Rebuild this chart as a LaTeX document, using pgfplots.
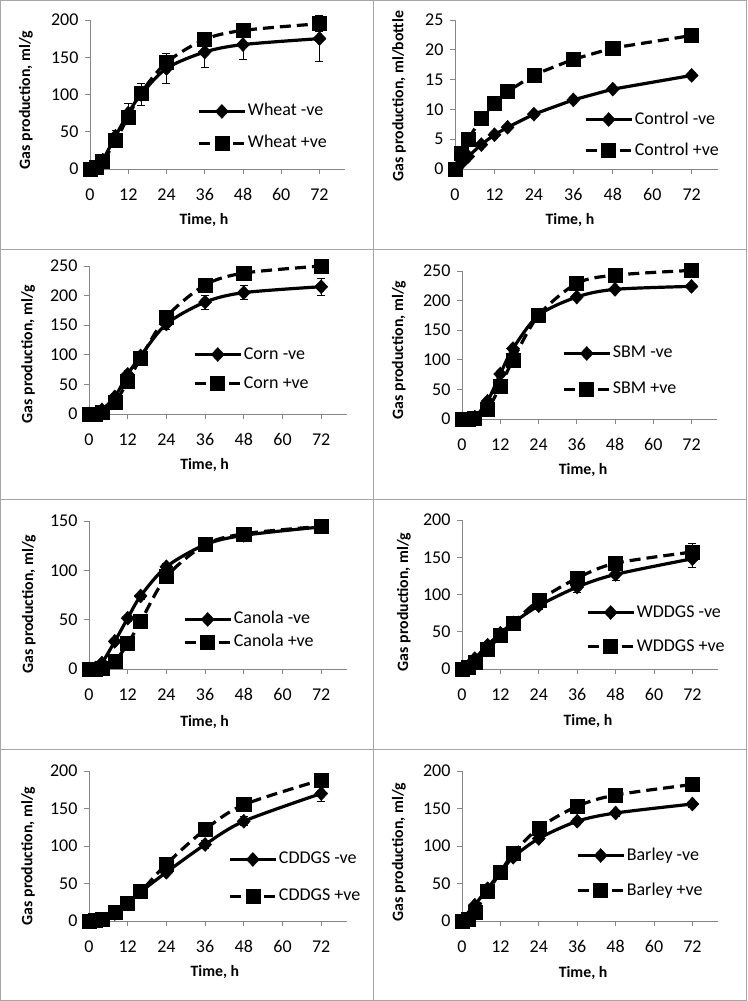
\documentclass[border=0pt]{standalone}
\usepackage{fontspec}
\setmainfont{Carlito}
\usepackage{pgfplots}
\usepackage{pgfplotstable}
\pgfplotsset{compat=1.18}

\definecolor{axisgray}{HTML}{868686}
\definecolor{framegray}{HTML}{A6A6A6}

% columns: time, -ve mean, -ve sd, +ve mean, +ve sd
\pgfplotstableread{
t  neg  nege  pos  pose
0  0    0     0    0
2  3    1     2    1
4  12   3     10   2
8  44   8     38   6
12 75   13    70   8
16 100  15    102  8
24 135  20    143  5
36 157  21    174  6
48 167  20    186  9
72 175  31    195  10
}\wheat
\pgfplotstableread{
t  neg   pos
0  0     0
2  1.0   2.7
4  2.1   5.0
8  4.1   8.5
12 5.75  11.0
16 7.0   13.0
24 9.2   15.8
36 11.6  18.4
48 13.4  20.3
72 15.7  22.4
}\control
\pgfplotstableread{
t  neg  nege  pos  pose
0  0    0     0    0
2  1    1     0    0
4  7    2     3    1
8  29   6     19   4
12 67   6     55   5
16 98   6     94   5
24 152  10    164  6
36 189  12    218  5
48 205  12    238  5
72 215  14    250  10
}\corn
\pgfplotstableread{
t  neg  nege  pos  pose
0  0    0     0    0
2  1    0     0    0
4  3    1     2    1
8  30   3     17   3
12 76   4     55   4
16 119  4     100  4
24 175  4     175  4
36 206  4     229  4
48 219  3     243  4
72 224  3     251  4
}\sbm
\pgfplotstableread{
t  neg   nege  pos   pose
0  0     0     0     0
2  1     0     0     0
4  6     1     1     0
8  28    2     8     2
12 51.5  3     25.6  3
16 74    3     48    3
24 103.6 3     93.5  4
36 126   4     126   4
48 135.5 5     137   5
72 144   6     144.6 6
}\canola
\pgfplotstableread{
t  neg  nege  pos  pose
0  0    0     0    0
2  4    1     2    1
4  14   2     9    2
8  32   3     26   3
12 48   4     45   4
16 62   4     62   4
24 85   5     92   5
36 110  7     122  6
48 127  8     142  6
72 148  12    157  12
}\wddgs
\pgfplotstableread{
t  neg  nege  pos  pose
0  0    0     0    0
2  0.5  0     0.5  0
4  2    1     2    1
8  10   2     11   2
12 23   3     24   3
16 38.7 3     39   3
24 65   4     76   4
36 102  5     122  5
48 133  6     155  5
72 170  10    188  9
}\cddgs
\pgfplotstableread{
t  neg  nege  pos  pose
0  0    0     0    0
2  5    1     2    1
4  21   2     12   2
8  43   3     39   3
12 65   3     65   3
16 85   3     90   3
24 110  4     124  4
36 133  4     153  4
48 144  4     168  4
72 156  4     182  4
}\barley

\pgfplotsset{
  panel/.style={
    scale only axis,
    anchor=south west,
    xmin=0, xmax=80, ymin=0,
    xtick={0,12,...,72},
    axis x line*=bottom,
    axis y line*=left,
    axis line style={draw=axisgray, line width=0.8pt},
    tick style={draw=axisgray, line width=0.8pt},
    tick align=outside,
    major tick length=5pt,
    tick label style={font=\fontsize{18}{22}\selectfont},
    /pgf/number format/assume math mode=true,
    xticklabel style={yshift=-11pt},
    yticklabel style={xshift=-3pt},
    xlabel={Time, h},
    ylabel={Gas production, ml/g},
    label style={font=\fontsize{15.8}{19}\selectfont\bfseries},
    legend cell align=left,
    legend style={draw=none, fill=none, anchor=west, inner sep=0pt,
      font=\fontsize{18}{22}\selectfont,
      nodes={inner sep=1.5pt, text height=12pt, text depth=3pt}},
    legend image code/.code={
      \draw[mark repeat=2, mark phase=2, ##1] plot coordinates {(0pt,0pt) (23pt,0pt) (46pt,0pt)};
    },
    clip=false,
  },
  negline/.style={black, line width=3.2pt, mark=diamond*, mark size=7pt,
    mark options={solid, line width=0.4pt, xscale=1.25}},
  posline/.style={black, line width=3.2pt, dash pattern=on 11pt off 6pt, mark=square*, mark size=7pt,
    mark options={solid, line width=0.6pt}},
  errs/.style={error bars/y dir=both, error bars/y explicit,
    error bars/error bar style={line width=0.9pt, black, solid},
    error bars/error mark options={rotate=90, mark size=4pt, line width=0.9pt, black, solid}},
}

\begin{document}
\begin{tikzpicture}
% table frame around the eight panels
\draw[framegray, line width=1pt] (0.5pt,-0.5pt) rectangle (746.5pt,-1000.5pt);
\draw[framegray, line width=1pt] (373.5pt,-0.5pt) -- (373.5pt,-1000.5pt);
\foreach \yy in {249.5,499.5,749.5} \draw[framegray, line width=1pt] (0.5pt,-\yy pt) -- (746.5pt,-\yy pt);

% Wheat
\begin{axis}[panel, at={(90pt,-169pt)}, width=255pt, height=149pt,
  ymax=200, ytick={0,50,...,200},
  ylabel style={at={(axis description cs:-0.251,0.463)}, anchor=center},
  xlabel style={at={(axis description cs:0.447,-0.34)}, anchor=center},
  legend style={at={(0.42,0.279)}, row sep=14pt}]
\addplot+[negline, smooth, errs] table[x=t, y=neg, y error=nege] {\wheat};
\addlegendentry{Wheat -ve}
\addplot+[posline, smooth, errs] table[x=t, y=pos, y error=pose] {\wheat};
\addlegendentry{Wheat +ve}
\end{axis}

% Control
\begin{axis}[panel, at={(455pt,-169pt)}, width=263pt, height=149pt,
  ymax=25, ytick={0,5,...,25},
  ylabel={Gas production, ml/bottle},
  ylabel style={at={(axis description cs:-0.213,0.49)}, anchor=center},
  xlabel style={at={(axis description cs:0.437,-0.34)}, anchor=center},
  legend style={at={(0.49,0.228)}, row sep=13pt}]
\addplot+[negline] table[x=t, y=neg] {\control};
\addlegendentry{Control -ve}
\addplot+[posline] table[x=t, y=pos] {\control};
\addlegendentry{Control +ve}
\end{axis}

% Corn
\begin{axis}[panel, at={(89pt,-414pt)}, width=258pt, height=148pt,
  ymax=250, ytick={0,50,...,250},
  ylabel style={at={(axis description cs:-0.236,0.405)}, anchor=center},
  xlabel style={at={(axis description cs:0.448,-0.342)}, anchor=center},
  legend style={at={(0.403,0.304)}, row sep=11pt}]
\addplot+[negline, smooth, errs] table[x=t, y=neg, y error=nege] {\corn};
\addlegendentry{Corn -ve}
\addplot+[posline, smooth, errs] table[x=t, y=pos, y error=pose] {\corn};
\addlegendentry{Corn +ve}
\end{axis}

% SBM
\begin{axis}[panel, at={(462pt,-419pt)}, width=255pt, height=148pt,
  ymax=250, ytick={0,50,...,250},
  ylabel style={at={(axis description cs:-0.247,0.466)}, anchor=center},
  xlabel style={at={(axis description cs:0.475,-0.342)}, anchor=center},
  legend style={at={(0.392,0.321)}, row sep=18pt}]
\addplot+[negline, smooth, errs] table[x=t, y=neg, y error=nege] {\sbm};
\addlegendentry{SBM -ve}
\addplot+[posline, smooth, errs] table[x=t, y=pos, y error=pose] {\sbm};
\addlegendentry{SBM +ve}
\end{axis}

% Canola
\begin{axis}[panel, at={(89pt,-669pt)}, width=258pt, height=148pt,
  ymax=150, ytick={0,50,...,150},
  ylabel style={at={(axis description cs:-0.233,0.439)}, anchor=center},
  xlabel style={at={(axis description cs:0.448,-0.355)}, anchor=center},
  legend style={at={(0.364,0.257)}, row sep=5pt}]
\addplot+[negline, smooth, errs] table[x=t, y=neg, y error=nege] {\canola};
\addlegendentry{Canola -ve}
\addplot+[posline, smooth, errs] table[x=t, y=pos, y error=pose] {\canola};
\addlegendentry{Canola +ve}
\end{axis}

% WDDGS
\begin{axis}[panel, at={(462pt,-669pt)}, width=256pt, height=149pt,
  ymax=200, ytick={0,50,...,200},
  ylabel style={at={(axis description cs:-0.227,0.45)}, anchor=center},
  xlabel style={at={(axis description cs:0.492,-0.352)}, anchor=center},
  legend style={at={(0.484,0.265)}, row sep=16pt}]
\addplot+[negline, smooth, errs] table[x=t, y=neg, y error=nege] {\wddgs};
\addlegendentry{WDDGS -ve}
\addplot+[posline, smooth, errs] table[x=t, y=pos, y error=pose] {\wddgs};
\addlegendentry{WDDGS +ve}
\end{axis}

% CDDGS
\begin{axis}[panel, at={(89pt,-921pt)}, width=258pt, height=150pt,
  ymax=200, ytick={0,50,...,200},
  ylabel style={at={(axis description cs:-0.236,0.433)}, anchor=center},
  xlabel style={at={(axis description cs:0.488,-0.337)}, anchor=center},
  legend style={at={(0.539,0.287)}, row sep=19pt}]
\addplot+[negline, smooth, errs] table[x=t, y=neg, y error=nege] {\cddgs};
\addlegendentry{CDDGS -ve}
\addplot+[posline, smooth, errs] table[x=t, y=pos, y error=pose] {\cddgs};
\addlegendentry{CDDGS +ve}
\end{axis}

% Barley
\begin{axis}[panel, at={(462pt,-921pt)}, width=256pt, height=150pt,
  ymax=200, ytick={0,50,...,200},
  ylabel style={at={(axis description cs:-0.246,0.46)}, anchor=center},
  xlabel style={at={(axis description cs:0.473,-0.35)}, anchor=center},
  legend style={at={(0.445,0.32)}, row sep=17pt}]
\addplot+[negline, smooth, errs] table[x=t, y=neg, y error=nege] {\barley};
\addlegendentry{Barley -ve}
\addplot+[posline, smooth, errs] table[x=t, y=pos, y error=pose] {\barley};
\addlegendentry{Barley +ve}
\end{axis}

\pgfresetboundingbox
\path (0pt,0pt) rectangle (747pt,-1001pt);
\end{tikzpicture}
\end{document}
